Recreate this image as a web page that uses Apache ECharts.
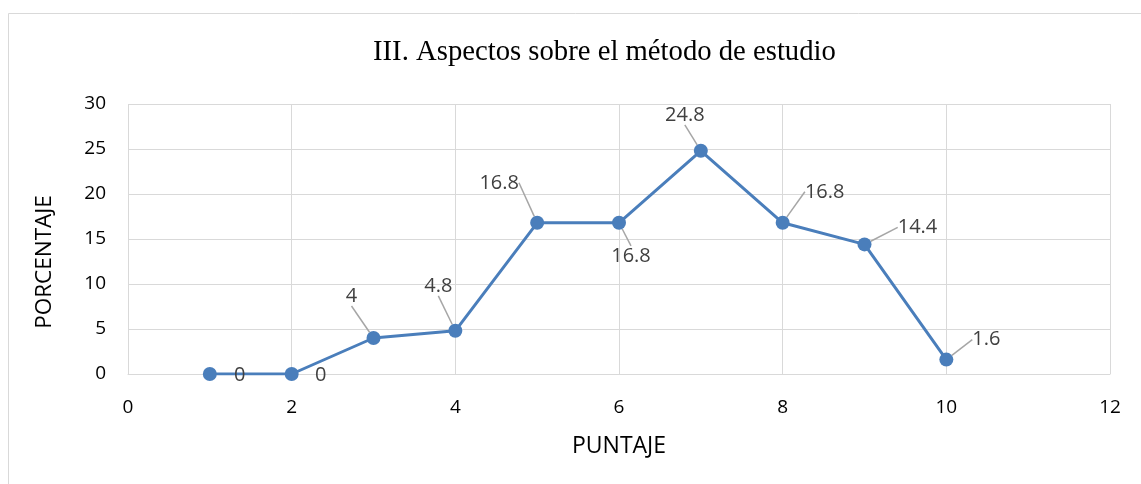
<!DOCTYPE html>
<html><head><meta charset="utf-8">
<script src="https://cdn.jsdelivr.net/npm/echarts@6/dist/echarts.min.js"></script>
<style>html,body{margin:0;padding:0;background:#fff}#c{width:1141px;height:484px}</style>
</head><body><div id="c"></div>
<script>
const title = 'III. Aspectos sobre el método de estudio';
const xName = 'PUNTAJE';
const yName = 'PORCENTAJE';
const puntaje = [1, 2, 3, 4, 5, 6, 7, 8, 9, 10];
const porcentaje = [0, 0, 4, 4.8, 16.8, 16.8, 24.8, 16.8, 14.4, 1.6];

const labelShift = [[30,1],[29,1],[-22,-42],[-17,-45],[-38,-40],[12,33],[-16,-36],[42,-31],[53,-17],[40,-20]];
const noLine = [true, true, false, false, false, false, false, false, false, false];

const chart = echarts.init(document.getElementById('c'));
const font = '"Open Sans", "Noto Sans", sans-serif';
chart.setOption({
  animation: false,
  backgroundColor: '#fff',
  graphic: [{ type: 'rect', shape: { x: 8.5, y: 13.5, width: 1140, height: 480 }, style: { fill: 'none', stroke: '#d9d9d9', lineWidth: 1 }, silent: true }],
  title: { text: title, left: 368, top: 33, textStyle: { fontFamily: '"Liberation Serif", serif', fontWeight: 'normal', fontSize: 28.7, color: '#000' } },
  grid: { left: 128, right: 31, top: 104, bottom: 110 },
  xAxis: {
    type: 'value', min: 0, max: 12, interval: 2,
    name: xName, nameLocation: 'middle', nameGap: 61,
    nameTextStyle: { fontFamily: font, fontSize: 23, color: '#000' },
    axisLine: { show: true, lineStyle: { color: '#d9d9d9', width: 1 } },
    axisTick: { show: false },
    axisLabel: { fontFamily: font, fontSize: 19, color: '#000', margin: 24 },
    splitLine: { show: true, lineStyle: { color: '#d9d9d9', width: 1 } }
  },
  yAxis: {
    type: 'value', min: 0, max: 30, interval: 5,
    name: yName, nameLocation: 'middle', nameGap: 72, nameRotate: 90,
    nameTextStyle: { fontFamily: font, fontSize: 22.5, color: '#000', padding: [0, 46, 0, 0] },
    axisLine: { show: false },
    axisTick: { show: false },
    axisLabel: { fontFamily: font, fontSize: 19, color: '#000', margin: 22 },
    splitLine: { show: true, lineStyle: { color: '#d9d9d9', width: 1 } }
  },
  series: [{
    type: 'line',
    data: puntaje.map((x, i) => ({ value: [x, porcentaje[i]], labelLine: { show: !noLine[i] } })),
    symbol: 'circle', symbolSize: 14,
    lineStyle: { color: '#4a7ebb', width: 3 },
    itemStyle: { color: '#4a7ebb' },
    label: { show: true, position: 'inside', fontFamily: font, fontSize: 20, color: '#404040', formatter: p => String(p.value[1]) },
    labelLine: { show: true, lineStyle: { color: '#a6a6a6', width: 1.5 } },
    labelLayout: p => ({ dx: labelShift[p.dataIndex][0], dy: labelShift[p.dataIndex][1] })
  }]
});
</script></body></html>
